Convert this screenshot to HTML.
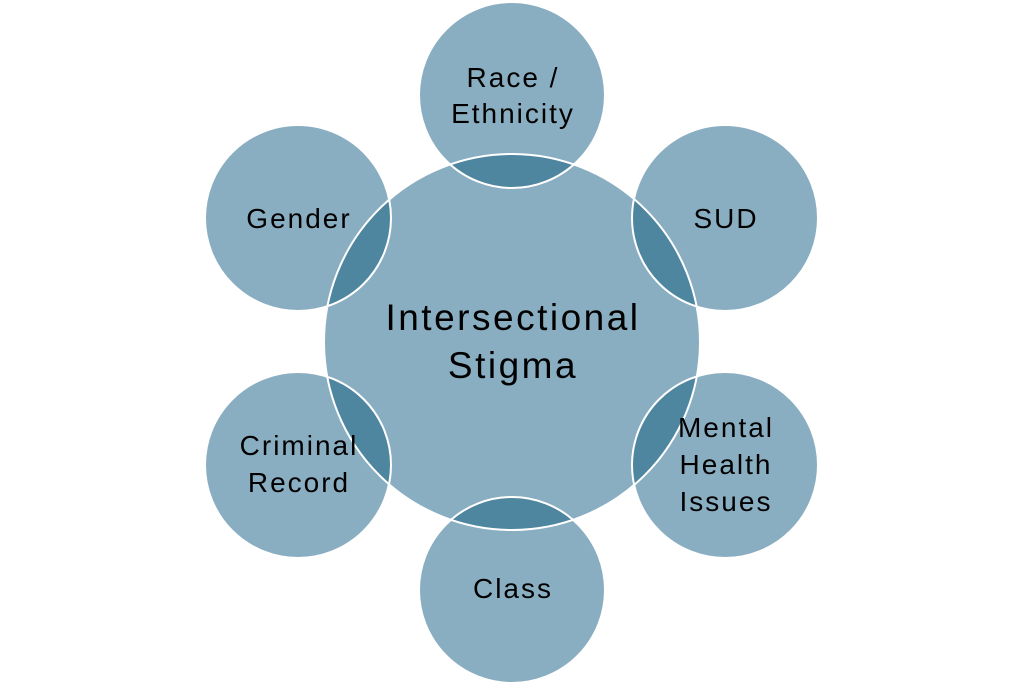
<!DOCTYPE html>
<html><head><meta charset="utf-8"><style>
html,body{margin:0;padding:0;background:#fff;}
svg{display:block;}
text{font-family:"Liberation Sans",sans-serif;fill:#000;text-anchor:middle;}
</style></head><body>
<svg width="1024" height="685" viewBox="0 0 1024 685">
<defs>
<clipPath id="c"><circle cx="512" cy="342" r="188"/></clipPath>
</defs>
<g fill="#8AAEC1">
<circle cx="512" cy="342" r="188"/>
<circle cx="512" cy="95" r="93"/>
<circle cx="725" cy="218" r="93"/>
<circle cx="725" cy="465" r="93"/>
<circle cx="512" cy="590" r="93"/>
<circle cx="298" cy="465" r="93"/>
<circle cx="298" cy="218" r="93"/>
</g>
<g fill="#4E86A0" clip-path="url(#c)">
<circle cx="512" cy="95" r="93"/>
<circle cx="725" cy="218" r="93"/>
<circle cx="725" cy="465" r="93"/>
<circle cx="512" cy="590" r="93"/>
<circle cx="298" cy="465" r="93"/>
<circle cx="298" cy="218" r="93"/>
</g>
<g fill="none" stroke="#fff" stroke-width="2">
<circle cx="512" cy="342" r="188"/>
<circle cx="512" cy="95" r="93"/>
<circle cx="725" cy="218" r="93"/>
<circle cx="725" cy="465" r="93"/>
<circle cx="512" cy="590" r="93"/>
<circle cx="298" cy="465" r="93"/>
<circle cx="298" cy="218" r="93"/>
</g>
<g font-size="37" letter-spacing="2.5">
<text x="513" y="330">Intersectional</text>
<text x="513" y="378">Stigma</text>
</g>
<g font-size="28" letter-spacing="2">
<text x="513" y="87">Race /</text>
<text x="513" y="123">Ethnicity</text>
<text x="726" y="228">SUD</text>
<text x="299" y="228">Gender</text>
<text x="726" y="437">Mental</text>
<text x="726" y="474">Health</text>
<text x="726" y="511">Issues</text>
<text x="299" y="455">Criminal</text>
<text x="299" y="492">Record</text>
<text x="513" y="598">Class</text>
</g>
</svg>
</body></html>
